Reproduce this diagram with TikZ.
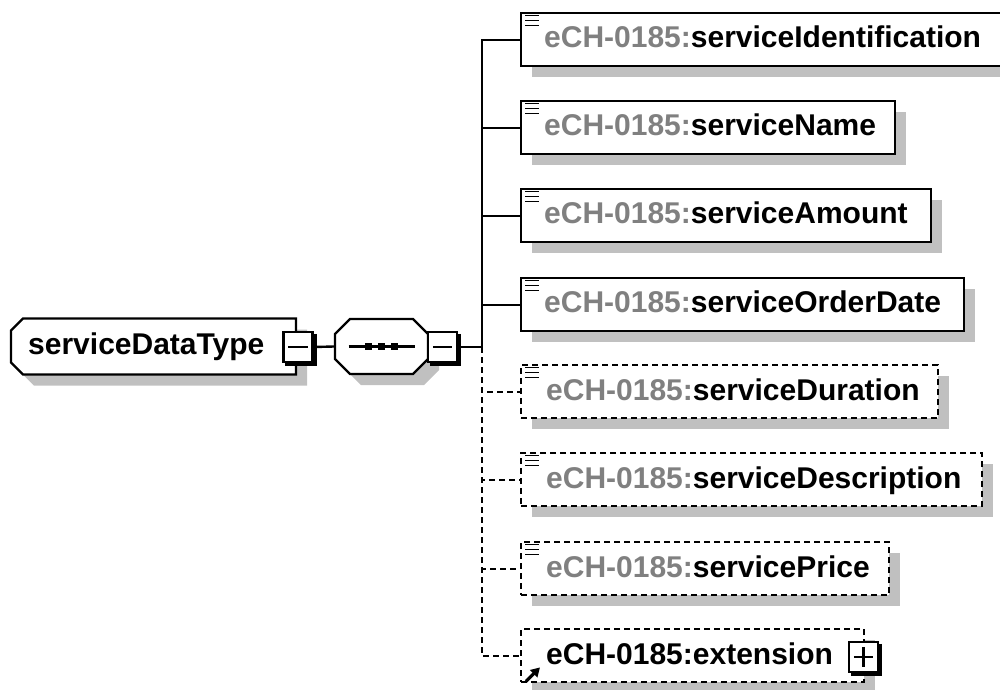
\documentclass[tikz,border=0pt]{standalone}
\usepackage{fontspec}
\setmainfont{Liberation Sans}
\usetikzlibrary{shadows,arrows.meta,calc}
\definecolor{shadowgray}{RGB}{192,192,192}
\definecolor{prefixgray}{RGB}{128,128,128}
\newcommand\lblfont{\bfseries\fontsize{30}{32}\selectfont}
\newcommand\ctrlbox[4]{%
  \node[ctrlsq] (#1) at (#2,#3) {};
  \draw[line width=4.5pt] ($(#1.north east)+(1,3)$) -- ($(#1.south east)+(1,1)$) -- ($(#1.south west)+(3,1)$);
  \draw ($(#1.west)+(6,0)$) -- ($(#1.east)+(-6,0)$);
  \ifnum#4=1 \draw ($(#1.north)+(0,6)$) -- ($(#1.south)+(0,-6)$);\fi
}
\newcommand\elemicon[1]{%
  \foreach \dy in {3.5,8.5,13.5}{\draw[line width=1.8pt] ($(#1.north west)+(5,\dy)$) -- +(14,0);}%
}
\begin{document}
\begin{tikzpicture}[x=1pt,y=-1pt,line width=2.4pt,
  shadowed/.style={drop shadow={shadow xshift=11pt,shadow yshift=-11pt,fill=shadowgray,opacity=1}},
  elbox/.style={draw,fill=white,inner sep=0pt,anchor=north west,minimum height=53pt,shadowed},
  optbox/.style={elbox,dash pattern=on 6pt off 4pt},
  optline/.style={dash pattern=on 6pt off 4pt},
  lbl/.style={anchor=base west,inner sep=0pt,font=\lblfont},
  ctrlsq/.style={draw,fill=white,inner sep=0pt,minimum width=29pt,minimum height=30pt},
]
\useasboundingbox (0,0) rectangle (1000,689);

% root type node
\fill[shadowgray] (34,329.5) -- (307,329.5) -- (307,385.5) -- (34,385.5) -- (22,373.5) -- (22,341.5) -- cycle;
\draw[fill=white] (23,318.5) -- (296,318.5) -- (296,374.5) -- (23,374.5) -- (11,362.5) -- (11,330.5) -- cycle;
\node[inner sep=0pt,minimum width=285pt,minimum height=56pt] (root) at (153.5,346.5) {};
\node[lbl] (roottext) at (27,354) {serviceDataType};
\ctrlbox{rootctl}{298}{347}{0}

% sequence compositor
\fill[shadowgray] (361,330) -- (424,330) -- (439,345) -- (439,370) -- (424,385) -- (361,385) -- (346,370) -- (346,345) -- cycle;
\draw[fill=white] (350,319) -- (413,319) -- (428,334) -- (428,359) -- (413,374) -- (350,374) -- (335,359) -- (335,334) -- cycle;
\node[inner sep=0pt,minimum width=93pt,minimum height=55pt] (seq) at (381.5,346.5) {};
\draw ($(seq.center)+(-33,0)$) -- ($(seq.center)+(33,0)$);
\foreach \dx in {-13,0,13}{\fill ($(seq.center)+(\dx-3.5,-3.5)$) rectangle +(7,7);}
\ctrlbox{seqctl}{442.5}{347}{0}

\draw (rootctl.east) -- (seq.west);
\coordinate (junc) at (482,347);
\draw (seqctl.east) -- (junc);

% elements
\node[elbox, minimum width=492pt] (e1) at (520,12) {};
\node[elbox, minimum width=374pt] (e2) at (520,100) {};
\node[elbox, minimum width=410pt] (e3) at (520,188) {};
\node[elbox, minimum width=443pt] (e4) at (520,277) {};
\node[optbox, minimum width=417pt] (e5) at (520,364) {};
\node[optbox, minimum width=461pt] (e6) at (520,452) {};
\node[optbox, minimum width=368pt] (e7) at (520,541) {};
\node[optbox, minimum width=343pt] (e8) at (520,628) {};

\foreach \e in {e1,e2,e3,e4}{\draw (junc) |- (\e.west);}
\foreach \e in {e5,e6,e7,e8}{\draw[optline] (junc) |- (\e.west);}

\foreach \e in {e1,e2,e3,e4,e5,e6,e7}{\elemicon{\e}}

\node[lbl] (t1) at (543,47) {\textcolor{prefixgray}{eCH-0185:}serviceIdentification};
\node[lbl] (t2) at (543,135) {\textcolor{prefixgray}{eCH-0185:}serviceName};
\node[lbl] (t3) at (543,223) {\textcolor{prefixgray}{eCH-0185:}serviceAmount};
\node[lbl] (t4) at (543,312) {\textcolor{prefixgray}{eCH-0185:}serviceOrderDate};
\node[lbl] (t5) at (545,400) {\textcolor{prefixgray}{eCH-0185:}serviceDuration};
\node[lbl] (t6) at (545,488) {\textcolor{prefixgray}{eCH-0185:}serviceDescription};
\node[lbl] (t7) at (545,577) {\textcolor{prefixgray}{eCH-0185:}servicePrice};
\node[lbl] (t8) at (545,664) {eCH-0185:extension};

\ctrlbox{extctl}{863.5}{657}{1}
\draw[line width=3.2pt,-{Triangle[length=9pt,width=10pt]}] ($(e8.south west)+(6,-2)$) -- +(14,-14);
\end{tikzpicture}
\end{document}
